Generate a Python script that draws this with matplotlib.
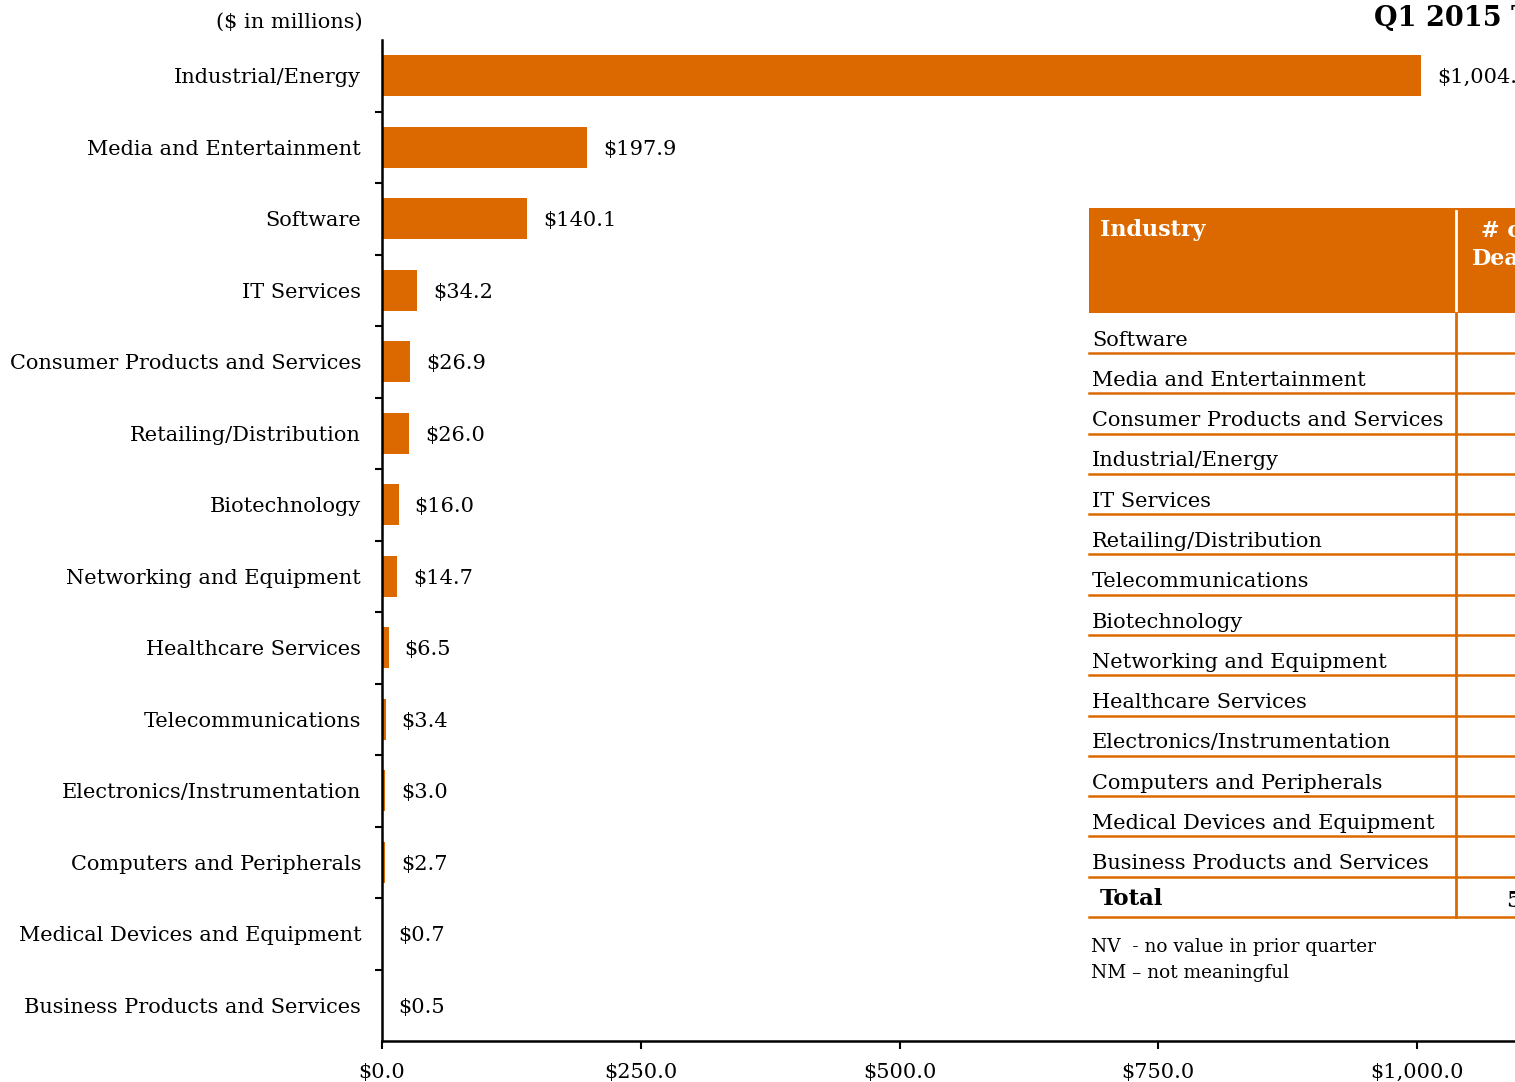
import numpy as np
import matplotlib.pyplot as plt
from matplotlib.patches import Rectangle

plt.rcParams['font.family'] = ['DejaVu Serif']

# chart data ($ in millions)
industries = ['Industrial/Energy', 'Media and Entertainment', 'Software', 'IT Services',
              'Consumer Products and Services', 'Retailing/Distribution', 'Biotechnology',
              'Networking and Equipment', 'Healthcare Services', 'Telecommunications',
              'Electronics/Instrumentation', 'Computers and Peripherals',
              'Medical Devices and Equipment', 'Business Products and Services']
amounts = [1004.2, 197.9, 140.1, 34.2, 26.9, 26.0, 16.0, 14.7, 6.5, 3.4, 3.0, 2.7, 0.7, 0.5]
xticks = [0, 250, 500, 750, 1000]

# table rows (ranked by deal count)
table_rows = ['Software', 'Media and Entertainment', 'Consumer Products and Services',
              'Industrial/Energy', 'IT Services', 'Retailing/Distribution',
              'Telecommunications', 'Biotechnology', 'Networking and Equipment',
              'Healthcare Services', 'Electronics/Instrumentation',
              'Computers and Peripherals', 'Medical Devices and Equipment',
              'Business Products and Services']

orange = '#DC6900'
fs = 15
W, H = 1515, 1082
fig = plt.figure(figsize=(W / 100, H / 100), dpi=100)

# main axes in pixel layout: x=0 at 382, 1000 at 1417 ; top 40, bottom 1041
x0, x1000 = 382, 1417
xmax = 1100
right_px = x0 + (x1000 - x0) * xmax / 1000
ax = fig.add_axes([x0 / W, 1 - 1041 / H, (right_px - x0) / W, (1041 - 40) / H])

y = np.arange(len(industries))
ax.barh(y, amounts, height=0.57, color=orange)
ax.set_xlim(0, xmax)
ax.set_ylim(len(industries) - 0.5, -0.5)

for yi, v in zip(y, amounts):
    ax.text(v + 16 * 1000 / (x1000 - x0), yi + 0.03, '${:,.1f}'.format(v), va='center',
            ha='left', fontsize=fs)

ax.set_yticks(y)
ax.set_yticklabels(industries, fontsize=fs)
ax.tick_params(axis='y', which='major', length=0, pad=15)
ax.set_yticks(np.arange(0.5, len(industries) - 1), minor=True)
ax.tick_params(axis='y', which='minor', length=5, width=1.5, direction='out')
ax.set_xticks(xticks)
ax.set_xticklabels(['${:,.1f}'.format(t) for t in xticks], fontsize=fs)
ax.tick_params(axis='x', length=6, width=1.5, pad=10)
for s in ['top', 'right']:
    ax.spines[s].set_visible(False)
for s in ['left', 'bottom']:
    ax.spines[s].set_linewidth(1.8)

fig.text(363 / W, 1 - 22 / H, '($ in millions)', ha='right', va='center', fontsize=fs)
fig.text(1374 / W, 1 - 19 / H, 'Q1 2015 Top Industries', ha='left', va='center',
         fontsize=19.5, fontweight='bold')

# table overlay in pixel coordinates
ov = fig.add_axes([0, 0, 1, 1])
ov.set_xlim(0, W)
ov.set_ylim(H, 0)
ov.axis('off')

ov.add_patch(Rectangle((1089, 208), 500, 105, color=orange, lw=0))
ov.plot([1456, 1456], [211, 311], color='white', lw=2)
ov.text(1100, 230, 'Industry', color='white', fontweight='bold', fontsize=16,
        va='center', ha='left')
ov.text(1506, 245, '# of\nDeals', color='white', fontweight='bold', fontsize=16,
        va='center', ha='center', linespacing=1.3)

top_line = 353
step = (917 - 353) / len(table_rows)
for i, name in enumerate(table_rows):
    ly = top_line + i * step
    ov.text(1092, ly - 13, name, fontsize=fs, va='center', ha='left')
    ov.plot([1089, W + 10], [ly, ly], color=orange, lw=1.8)
tot_y = top_line + len(table_rows) * step
ov.plot([1089, W + 10], [tot_y, tot_y], color=orange, lw=1.8)
ov.text(1100, tot_y - 18, 'Total', fontsize=16.5, fontweight='bold', va='center', ha='left')
ov.text(1506, tot_y - 16, '5', fontsize=16.5, fontweight='bold', va='center', ha='left')
ov.plot([1456, 1456], [313, tot_y], color=orange, lw=2)

ov.text(1091, 947, 'NV  - no value in prior quarter', fontsize=13.3, va='center', ha='left')
ov.text(1091, 973, 'NM \u2013 not meaningful', fontsize=13.3, va='center', ha='left')

fig.savefig('out.png', dpi=100)
